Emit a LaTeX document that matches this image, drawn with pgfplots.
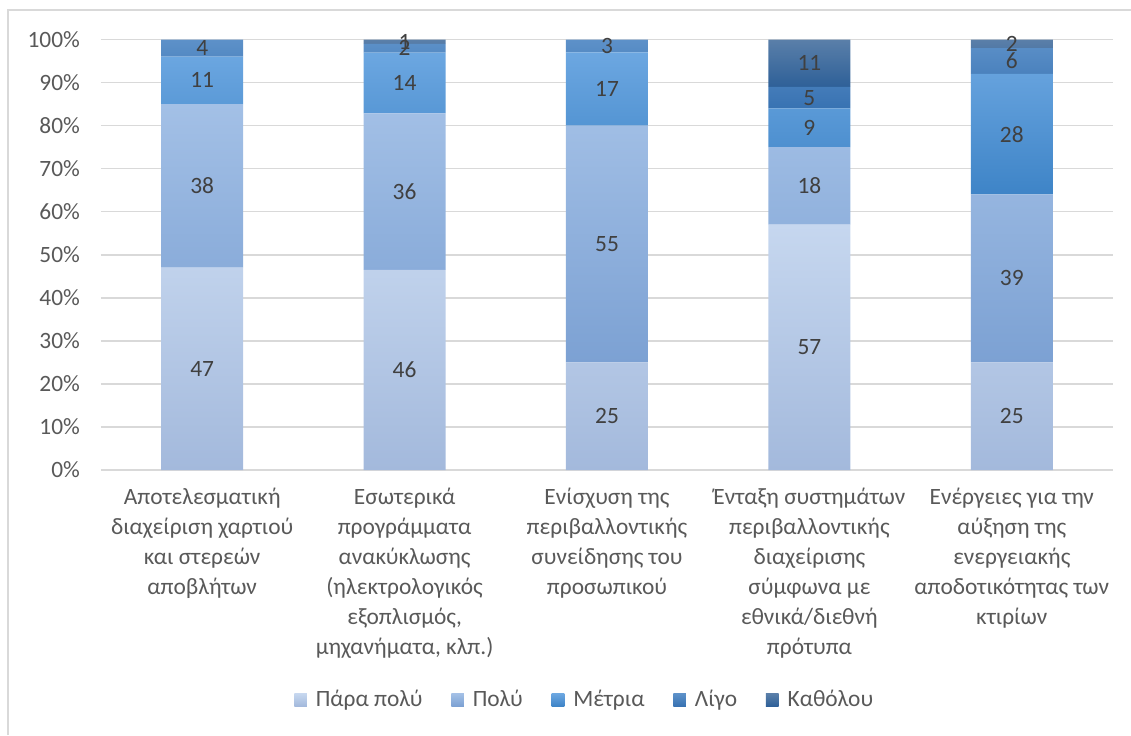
\documentclass[border=0pt]{standalone}
\usepackage{pgfplots}
\pgfplotsset{compat=1.18}
\usepackage{fontspec}
\setmainfont{Carlito}
\definecolor{txtgray}{HTML}{595959}
\definecolor{lblgray}{HTML}{404040}
\definecolor{gridgray}{HTML}{D9D9D9}
\definecolor{vhTop}{HTML}{C6D7EF}
\definecolor{vhBot}{HTML}{A3B9DC}
\definecolor{hTop}{HTML}{A3C0E6}
\definecolor{hBot}{HTML}{7CA1D3}
\definecolor{mTop}{HTML}{6CA7E1}
\definecolor{mBot}{HTML}{3E84C7}
\definecolor{lTop}{HTML}{5D91C9}
\definecolor{lBot}{HTML}{3872B2}
\definecolor{nTop}{HTML}{5A7FA9}
\definecolor{nBot}{HTML}{2E6098}

\pgfplotsset{
  commonaxis/.style={
    scale only axis,
    at={(50.5pt,132.5pt)}, anchor=south west,
    width=506pt, height=215.25pt,
    xmin=-0.5, xmax=4.5, ymin=0, ymax=100,
  },
}

\begin{document}
\begin{tikzpicture}[font=\fontsize{11.7}{15}\selectfont]
\useasboundingbox (0,0) rectangle (565.5pt,367.5pt);
\draw[gridgray, line width=0.75pt] (4pt,0) -- (4pt,362.5pt) -- (565.5pt,362.5pt);

\begin{axis}[
  commonaxis,
  ybar stacked, bar width=41pt,
  axis line style={draw=none},
  tick style={draw=none},
  ymajorgrids, grid style={gridgray, line width=0.75pt},
  ytick={0,10,...,100},
  yticklabel={\pgfmathprintnumber{\tick}\%},
  /pgf/number format/assume math mode=true,
  yticklabel style={text=txtgray, xshift=-7pt},
  xtick={0,1,2,3,4},
  xticklabels={
    {Αποτελεσματική\\διαχείριση χαρτιού\\και στερεών\\αποβλήτων},
    {Εσωτερικά\\προγράμματα\\ανακύκλωσης\\(ηλεκτρολογικός\\εξοπλισμός,\\μηχανήματα, κλπ.)},
    {Ενίσχυση της\\περιβαλλοντικής\\συνείδησης του\\προσωπικού},
    {Ένταξη συστημάτων\\περιβαλλοντικής\\διαχείρισης\\σύμφωνα με\\εθνικά/διεθνή\\πρότυπα},
    {Ενέργειες για την\\αύξηση της\\ενεργειακής\\αποδοτικότητας των\\κτιρίων}},
  xticklabel style={text=txtgray, align=center, anchor=north, yshift=-5.5pt},
  legend columns=5,
  legend style={at={(0.479,-0.534)}, anchor=center, draw=none, fill=none,
    text=txtgray,
    /tikz/every even column/.append style={column sep=12.4pt}},
  legend image code/.code={%
    \path[#1, draw=none] (0pt,-3.15pt) rectangle (6.3pt,3.15pt);
    \path (0pt,0pt) -- (8.8pt,0pt);},
]
\addplot[draw=none, top color=vhTop, bottom color=vhBot] coordinates
  {(0,47) (1,46.46) (2,25) (3,57) (4,25)};
\addlegendentry{Πάρα πολύ}
\addplot[draw=none, top color=hTop, bottom color=hBot] coordinates
  {(0,38) (1,36.36) (2,55) (3,18) (4,39)};
\addlegendentry{Πολύ}
\addplot[draw=none, top color=mTop, bottom color=mBot] coordinates
  {(0,11) (1,14.14) (2,17) (3,9) (4,28)};
\addlegendentry{Μέτρια}
\addplot[draw=none, top color=lTop, bottom color=lBot] coordinates
  {(0,4) (1,2.02) (2,3) (3,5) (4,6)};
\addlegendentry{Λίγο}
\addplot[draw=none, top color=nTop, bottom color=nBot] coordinates
  {(0,0) (1,1.01) (2,0) (3,11) (4,2)};
\addlegendentry{Καθόλου}
\end{axis}

% data labels, centred in each segment
\begin{axis}[commonaxis, hide axis]
\addplot[draw=none, mark=none,
  nodes near coords, point meta=explicit symbolic,
  nodes near coords style={anchor=center, text=lblgray, inner sep=0pt}]
  coordinates {
  (0,23.5)[47] (0,66)[38] (0,90.5)[11] (0,98)[4]
  (1,23.23)[46] (1,64.64)[36] (1,89.9)[14] (1,97.98)[2] (1,99.5)[1]
  (2,12.5)[25] (2,52.5)[55] (2,88.5)[17] (2,98.5)[3]
  (3,28.5)[57] (3,66)[18] (3,79.5)[9] (3,86.5)[5] (3,94.5)[11]
  (4,12.5)[25] (4,44.5)[39] (4,78)[28] (4,95)[6] (4,99)[2]
  };
\end{axis}
\end{tikzpicture}
\end{document}
